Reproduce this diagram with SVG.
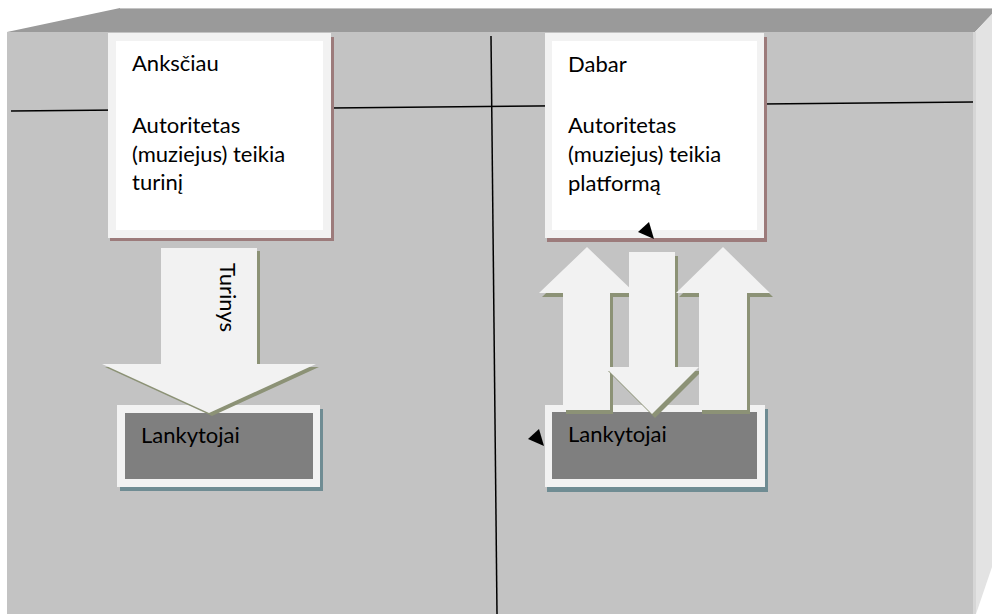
<svg xmlns="http://www.w3.org/2000/svg" width="992" height="614" viewBox="0 0 992 614">
  <style>
    .txt { font-family: Lato, "Open Sans", "Liberation Sans", sans-serif; font-size: 22px; fill: #000; }
    .rule { stroke: #000; stroke-width: 1.5; fill: none; }
    .frame { fill: #f2f2f2; }
    .inner-white { fill: #ffffff; }
    .inner-dark { fill: #7f7f7f; }
    .shadow-top { fill: #9c7b7b; }
    .shadow-low { fill: #6f8c93; }
    .arrow { fill: #f2f2f2; }
    .arrow-shadow { fill: #8c9276; }
    .ah { fill: #000; }
  </style>

  <g id="background">
    <rect x="0" y="0" width="992" height="614" fill="#ffffff"/>
    <polygon points="7,32 120,8 992,8 992,14 975,32" fill="#9a9a9a"/>
    <line x1="120" y1="8.5" x2="992" y2="8.5" stroke="#c4c4c4" stroke-width="1"/>
    <rect x="7" y="32" width="968" height="582" fill="#c3c3c3"/>
    <polygon points="975,32 992,14 992,567 976,614 975,614" fill="#e3e3e3"/>
    <rect x="973" y="32" width="3" height="582" fill="#d6d6d6"/>
  </g>

  <g id="dividers">
    <line class="rule" x1="11" y1="111" x2="973" y2="102"/>
    <line class="rule" x1="491" y1="36" x2="497" y2="614"/>
  </g>

  <g id="node-anksciau">
    <rect class="shadow-top" x="110" y="37" width="224" height="204"/>
    <rect class="frame" x="108" y="33" width="223" height="205"/>
    <rect class="inner-white" x="116" y="41" width="207" height="189"/>
    <text class="txt" x="132" y="71">Anksčiau</text>
    <text class="txt" x="132" y="133">Autoritetas</text>
    <text class="txt" x="132" y="162">(muziejus) teikia</text>
    <text class="txt" x="132" y="190">turinį</text>
  </g>

  <g id="node-dabar">
    <rect class="shadow-top" x="547" y="37" width="220" height="205"/>
    <rect class="frame" x="545" y="33" width="219" height="205"/>
    <rect class="inner-white" x="552" y="41" width="205" height="189"/>
    <text class="txt" x="568" y="72">Dabar</text>
    <text class="txt" x="568" y="133">Autoritetas</text>
    <text class="txt" x="568" y="162">(muziejus) teikia</text>
    <text class="txt" x="568" y="191">platformą</text>
  </g>

  <g id="node-lankytojai-left">
    <rect class="shadow-low" x="120" y="409" width="203" height="82"/>
    <rect class="frame" x="117" y="405" width="203" height="82"/>
    <rect class="inner-dark" x="125" y="413" width="188" height="66"/>
    <text class="txt" x="141" y="443">Lankytojai</text>
  </g>

  <g id="node-lankytojai-right">
    <rect class="shadow-low" x="547" y="409" width="221" height="83"/>
    <rect class="frame" x="545" y="405" width="220" height="82"/>
    <rect class="inner-dark" x="552" y="412" width="205" height="67"/>
    <text class="txt" x="568" y="442">Lankytojai</text>
  </g>

  <g id="connectors">
    <g id="arrow-turinys">
      <polygon class="arrow-shadow" transform="translate(3,3)" points="161,248 257,248 257,364 316,364 209,413 102,364 161,364"/>
      <polygon class="arrow" points="161,248 257,248 257,364 316,364 209,413 102,364 161,364"/>
      <text class="txt" transform="translate(220,263) rotate(90)">Turinys</text>
    </g>
    <g id="arrow-up-left">
      <polygon class="arrow-shadow" transform="translate(3,4)" points="587,247 635,293 610,293 610,410 563,410 563,293 539,293"/>
      <polygon class="arrow" points="587,247 635,293 610,293 610,410 563,410 563,293 539,293"/>
    </g>
    <g id="arrow-down-mid">
      <polygon class="arrow-shadow" transform="translate(3,4)" points="629,252 675,252 675,367 699,367 652,414 605,367 629,367"/>
      <polygon class="arrow" points="629,252 675,252 675,367 699,367 652,414 605,367 629,367"/>
    </g>
    <g id="arrow-up-right">
      <polygon class="arrow-shadow" transform="translate(3,4)" points="723,247 770,293 747,293 747,410 699,410 699,293 676,293"/>
      <polygon class="arrow" points="723,247 770,293 747,293 747,410 699,410 699,293 676,293"/>
    </g>
    <polygon class="ah" points="649,222 638,232 654,239"/>
    <polygon class="ah" points="539,429 528,439 544,446"/>
  </g>
</svg>
